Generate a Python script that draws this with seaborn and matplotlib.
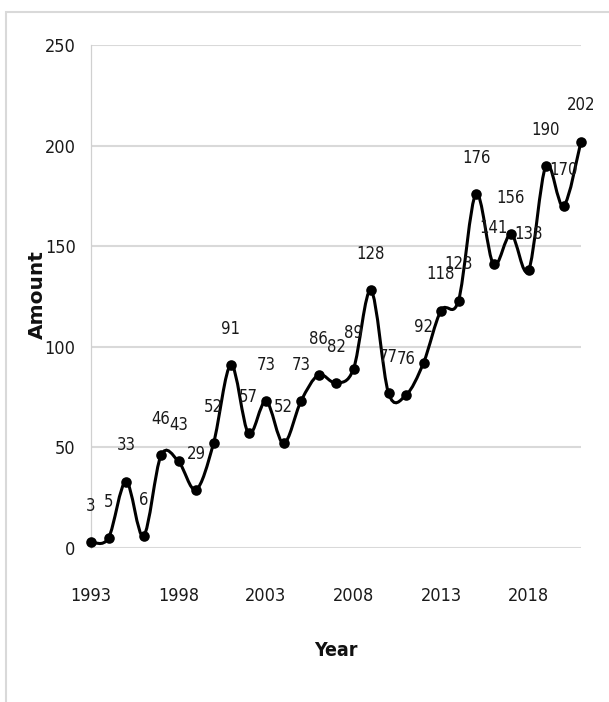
import numpy as np
import pandas as pd
import seaborn as sns
import matplotlib
matplotlib.use("Agg")
import matplotlib.pyplot as plt
from matplotlib.path import Path
from matplotlib.patches import PathPatch, Rectangle

years = list(range(1993, 2022))
amounts = [3, 5, 33, 6, 46, 43, 29, 52, 91, 57, 73, 52, 73, 86, 82, 89,
           128, 77, 76, 92, 118, 123, 176, 141, 156, 138, 190, 170, 202]
y_ticks = [0, 50, 100, 150, 200, 250]
x_ticks = [1993, 1998, 2003, 2008, 2013, 2018]
x_title = "Year"
y_title = "Amount"

df = pd.DataFrame({"Year": years, "Amount": amounts})

sns.set_theme(style="white")
plt.rcParams["font.family"] = ["DejaVu Sans"]
plt.rcParams["font.stretch"] = "condensed"

W, H = 609, 702
fig = plt.figure(figsize=(W / 100, H / 100), dpi=100)
ax = fig.add_axes([91 / W, (H - 548) / H, (581 - 91) / W, (548 - 45) / H])

ax.set_xlim(1993, 2021)
ax.set_ylim(0, 250)

ax.set_yticks(y_ticks)
ax.set_xticks(x_ticks)
ax.grid(axis="y", color="#d9d9d9", linewidth=1.5)
ax.grid(axis="x", visible=False)
for s in ["top", "right", "bottom"]:
    ax.spines[s].set_visible(False)
ax.spines["left"].set_color("#d0d0d0")
ax.spines["left"].set_linewidth(0.9)
ax.tick_params(axis="both", length=0)
ax.tick_params(axis="y", pad=11, labelsize=13, labelcolor="#1a1a1a")
ax.tick_params(axis="x", pad=28, labelsize=13, labelcolor="#1a1a1a")

# smoothed line (Excel-style Bezier through the data points)
x = np.array(df["Year"], dtype=float)
y = np.array(df["Amount"], dtype=float)
n = len(x)
verts = [(x[0], y[0])]
codes = [Path.MOVETO]
for i in range(n - 1):
    p0 = np.array([x[max(i - 1, 0)], y[max(i - 1, 0)]])
    p1 = np.array([x[i], y[i]])
    p2 = np.array([x[i + 1], y[i + 1]])
    p3 = np.array([x[min(i + 2, n - 1)], y[min(i + 2, n - 1)]])
    c1 = p1 + (p2 - p0) / 6.0
    c2 = p2 - (p3 - p1) / 6.0
    verts += [tuple(c1), tuple(c2), tuple(p2)]
    codes += [Path.CURVE4, Path.CURVE4, Path.CURVE4]
ax.add_patch(PathPatch(Path(verts, codes), facecolor="none",
                       edgecolor="black", linewidth=2.2, clip_on=False,
                       zorder=3))

sns.scatterplot(data=df, x="Year", y="Amount", ax=ax, color="black",
                s=58, edgecolor="black", linewidth=0, zorder=4,
                clip_on=False, legend=False)

for xv, yv in zip(years, amounts):
    ax.annotate(str(yv), (xv, yv), xytext=(0, 26), textcoords="offset points",
                ha="center", va="center", fontsize=12, color="#1a1a1a",
                zorder=5, annotation_clip=False)

ax.set_xlabel("")
ax.set_ylabel("")
fig.text(336 / W, 1 - 651 / H, x_title, ha="center", va="center",
         fontsize=14, fontweight="bold", color="#111111")
fig.text(37 / W, 1 - 295 / H, y_title, ha="center", va="center",
         rotation=90, fontsize=14.5, fontweight="bold", color="#111111",
         fontstretch="normal")

fig.patches.append(Rectangle((6 / W, -0.05), 1.2, 1 - 12 / H + 0.05,
                             transform=fig.transFigure, fill=False,
                             edgecolor="#d9d9d9", linewidth=1.5))

fig.savefig("out.png", dpi=100, facecolor="white")
